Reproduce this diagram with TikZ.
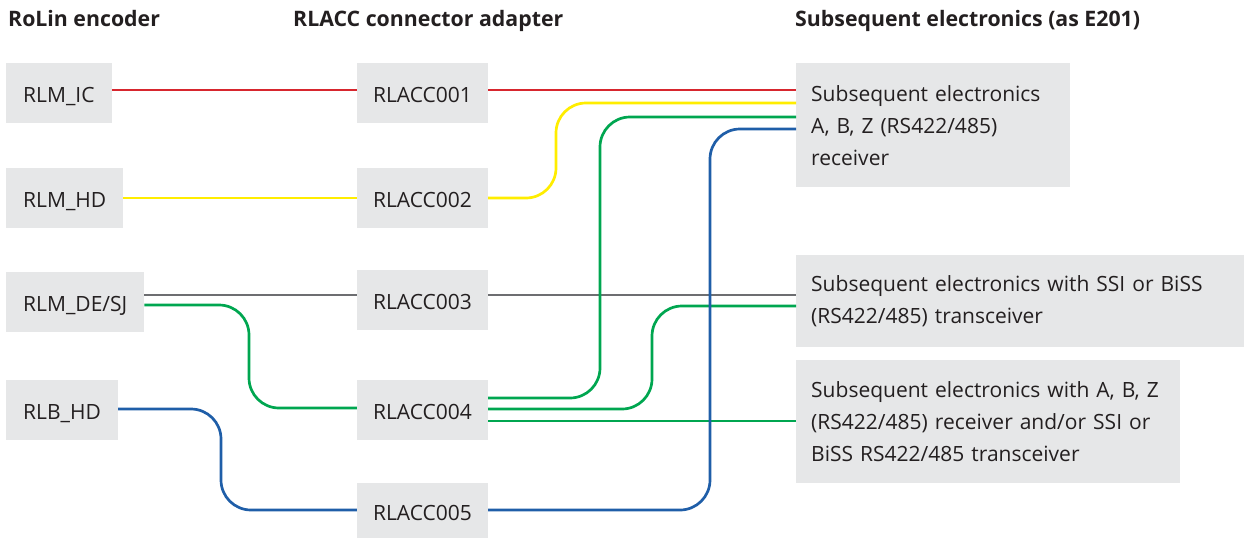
\documentclass[tikz,border=0pt]{standalone}
\usepackage{fontspec}
\setmainfont{Open Sans}
\usetikzlibrary{calc}
\definecolor{boxgray}{HTML}{E6E7E8}
\definecolor{txt}{HTML}{231F20}
\definecolor{cred}{HTML}{D7262E}
\definecolor{cyellow}{HTML}{FFED00}
\definecolor{cgreen}{HTML}{00A650}
\definecolor{cblue}{HTML}{1F5EA8}
\definecolor{cgray}{HTML}{6D6E71}
\tikzset{
  box/.style={fill=boxgray, inner xsep=15pt, inner ysep=0pt, minimum height=60pt,
    text=txt, font=\fontsize{21pt}{32pt}\selectfont},
  encbox/.style={box, anchor=west, inner xsep=17pt, text height=19pt, text depth=0pt},
  accbox/.style={box, minimum width=131pt, text height=19pt, text depth=0pt},
  ebox/.style={box, anchor=north west, align=left},
  head/.style={anchor=base west, inner sep=0pt, text=txt, font=\fontsize{21.3pt}{26pt}\selectfont\bfseries},
  wire/.style={line width=2.7pt, rounded corners=30pt}
}
\begin{document}
\begin{tikzpicture}[x=1pt,y=-1pt]
\useasboundingbox (0,0) rectangle (1244,539);
% headings
\node[head] (h1) at (8,26) {RoLin encoder};
\node[head] (h2) at (293,26) {RLACC connector adapter};
\node[head] (h3) at (795,26) {Subsequent electronics (as E201)};
% encoders
\node[encbox] (rlmic) at (6,93) {RLM\_IC};
\node[encbox] (rlmhd) at (6,198) {RLM\_HD};
\node[encbox] (rlmde) at (6,302) {RLM\_DE/SJ};
\node[encbox] (rlbhd) at (6,409.5) {RLB\_HD};
% adapters
\node[accbox] (acc1) at (422.5,93) {RLACC001};
\node[accbox] (acc2) at (422.5,198) {RLACC002};
\node[accbox] (acc3) at (422.5,300) {RLACC003};
\node[accbox] (acc4) at (422.5,409.5) {RLACC004};
\node[accbox, minimum height=55pt] (acc5) at (422.5,510.5) {RLACC005};
% subsequent electronics
\node[ebox, text width=244pt, minimum height=124pt] (e1) at (796,63)
  {Subsequent electronics\\A, B, Z (RS422/485)\\receiver};
\node[ebox, text width=418pt, minimum height=92pt] (e2) at (796,255)
  {Subsequent electronics with SSI or BiSS\\(RS422/485) transceiver};
\node[ebox, text width=354pt, minimum height=123pt] (e3) at (796,360)
  {Subsequent electronics with A, B, Z\\(RS422/485) receiver and/or SSI or\\BiSS RS422/485 transceiver};
% gray
\draw[wire, cgray] (rlmde.east |- 0,295) -- (acc3.west |- 0,295);
\draw[wire, cgray] (acc3.east |- 0,295) -- (e2.west |- 0,295);
% red
\draw[wire, cred] (rlmic.east |- 0,90) -- (acc1.west |- 0,90);
\draw[wire, cred] (acc1.east |- 0,90) -- (e1.west |- 0,90);
% yellow
\draw[wire, cyellow] (rlmhd.east |- 0,198) -- (acc2.west |- 0,198);
\draw[wire, cyellow] (acc2.east |- 0,198) -- (556,198) -- (556,103) -- (e1.west |- 0,103);
% green
\draw[wire, cgreen] (rlmde.east |- 0,305) -- (249,305) -- (249,408) -- (acc4.west |- 0,408);
\draw[wire, cgreen] (acc4.east |- 0,398) -- (600,398) -- (600,117) -- (e1.west |- 0,117);
\draw[wire, cgreen] (acc4.east |- 0,409) -- (652,409) -- (652,306) -- (e2.west |- 0,306);
\draw[wire, cgreen] (acc4.east |- 0,421) -- (e3.west |- 0,421);
% blue
\draw[wire, cblue] (rlbhd.east |- 0,409) -- (221,409) -- (221,510) -- (acc5.west |- 0,510);
\draw[wire, cblue] (acc5.east |- 0,510) -- (710,510) -- (710,129) -- (e1.west |- 0,129);
\end{tikzpicture}
\end{document}
